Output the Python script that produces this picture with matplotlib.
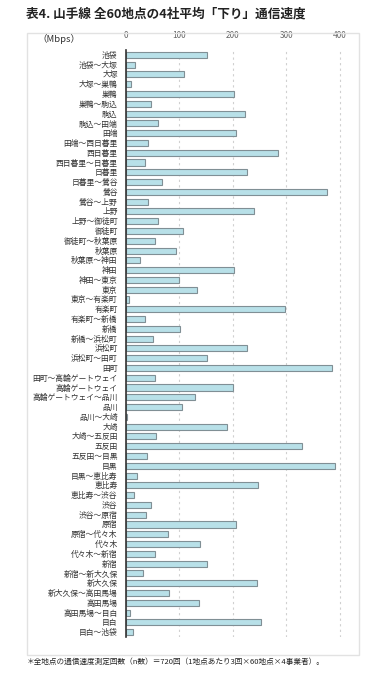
import matplotlib.pyplot as plt
from matplotlib.patches import Rectangle

plt.rcParams['font.family'] = ['Noto Sans CJK JP', 'DejaVu Sans']

# Data: average download speed (Mbps) per point
labels = [
    '池袋', '池袋～大塚', '大塚', '大塚～巣鴨', '巣鴨', '巣鴨～駒込', '駒込', '駒込～田端',
    '田端', '田端～西日暮里', '西日暮里', '西日暮里～日暮里', '日暮里', '日暮里～鶯谷',
    '鶯谷', '鶯谷～上野', '上野', '上野～御徒町', '御徒町', '御徒町～秋葉原', '秋葉原',
    '秋葉原～神田', '神田', '神田～東京', '東京', '東京～有楽町', '有楽町', '有楽町～新橋',
    '新橋', '新橋～浜松町', '浜松町', '浜松町～田町', '田町', '田町～高輪ゲートウェイ',
    '高輪ゲートウェイ', '高輪ゲートウェイ～品川', '品川', '品川～大崎', '大崎', '大崎～五反田',
    '五反田', '五反田～目黒', '目黒', '目黒～恵比寿', '恵比寿', '恵比寿～渋谷', '渋谷',
    '渋谷～原宿', '原宿', '原宿～代々木', '代々木', '代々木～新宿', '新宿', '新宿～新大久保',
    '新大久保', '新大久保～高田馬場', '高田馬場', '高田馬場～目白', '目白', '目白～池袋',
]
speeds = [
    151, 16, 109, 9, 202, 46, 222, 59, 206, 42, 285, 35, 227, 67, 376, 41, 239, 59,
    106, 54, 93, 27, 203, 100, 132, 6, 298, 36, 101, 51, 227, 152, 385, 55, 200, 129,
    105, 2, 190, 56, 329, 39, 392, 21, 247, 15, 46, 37, 205, 79, 138, 54, 152, 31,
    246, 81, 137, 8, 253, 14,
]
xticks = [0, 100, 200, 300, 400]

W, H = 390, 683
fig = plt.figure(figsize=(W / 100, H / 100), dpi=100)

# light frame around the chart
fig.patches.append(Rectangle((27 / W, 1 - 655 / H), (359 - 27) / W, (655 - 33) / H,
                             transform=fig.transFigure, fill=False,
                             edgecolor='#e2e2e2', linewidth=1.0))

ax = fig.add_axes([126 / W, 1 - 637 / H, (345 - 126) / W, (637 - 50) / H])
y = range(len(labels))
ax.barh(y, speeds, height=0.62, color='#b8e0e8', edgecolor='#808f95', linewidth=0.8, zorder=3)
ax.set_ylim(len(labels) - 0.5, -0.5)
ax.set_xlim(0, 410)

ax.set_yticks(list(y))
ax.set_yticklabels(labels, fontsize=5.6, color='#333333')
ax.set_xticks(xticks)
ax.set_xticklabels([str(t) for t in xticks], fontsize=6, color='#666666')
ax.xaxis.tick_top()
ax.tick_params(axis='both', length=0)
ax.tick_params(axis='x', pad=7)
ax.tick_params(axis='y', pad=6)

for s in ['top', 'right', 'bottom']:
    ax.spines[s].set_visible(False)
ax.spines['left'].set_color('#333333')
ax.spines['left'].set_linewidth(1.2)
ax.spines['left'].set_zorder(4)

ax.grid(axis='x', linestyle=(0, (2, 3)), color='#d0d0d0', linewidth=0.8, zorder=0)
ax.set_axisbelow(True)

fig.text(37 / W, 1 - 39 / H, '（Mbps）', fontsize=6.8, color='#333333', va='center')
fig.text(26 / W, 1 - 14 / H, '表4. 山手線 全60地点の4社平均「下り」通信速度',
         fontsize=9.1, fontweight='bold', color='#222222', va='center')
fig.text(27 / W, 1 - 662 / H,
         '＊全地点の通信速度測定回数（n数）＝720回（1地点あたり3回×60地点×4事業者）。',
         fontsize=5.5, color='#222222', va='center')

fig.savefig('out.png', dpi=100)
